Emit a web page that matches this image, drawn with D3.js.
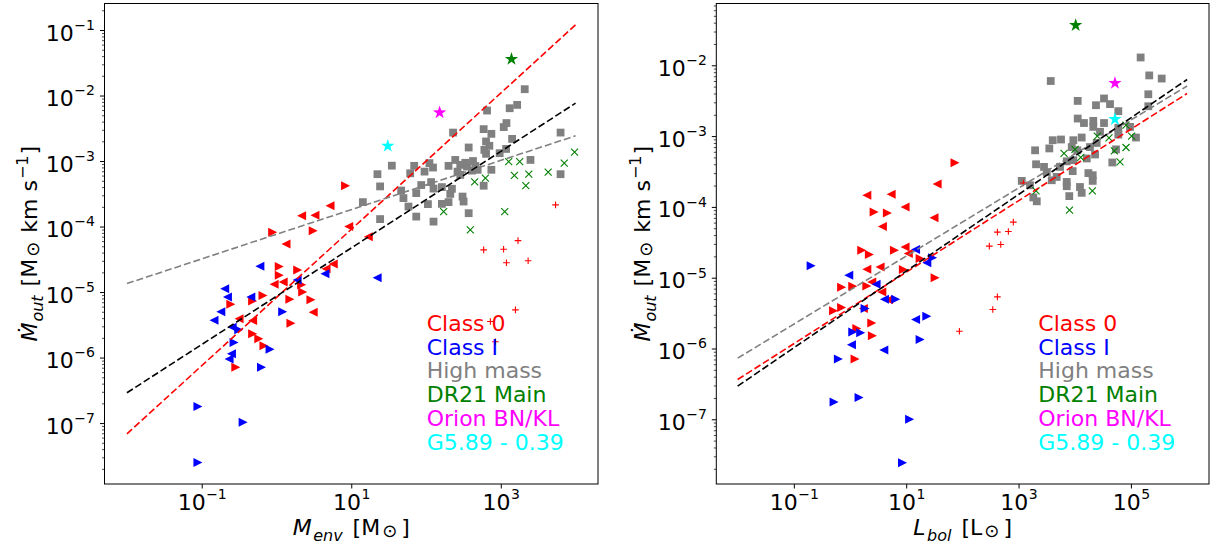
<!DOCTYPE html>
<html><head><meta charset="utf-8">
<script src="https://cdn.jsdelivr.net/npm/d3@7"></script>
<style>
body{margin:0;background:#fff}
svg{display:block}
text{font-family:"DejaVu Sans",sans-serif;white-space:pre}
</style>
</head><body>
<svg id="c" width="1215" height="551"></svg>
<script>
// ---------------- DATA ----------------
// Left panel: M_env vs Mdot_out
const envClass0Menv = [8.4,5.2,2.17,3.27,0.89,3.1,1.34,9.25,16.9,1.09,1.92,5.75,1.09,1.23,0.93,2.17,2.24,0.66,1.51,2.89,0.48,0.245,3.1,0.48,0.316,1.56,0.48,0.58,0.68,0.286,4.6];
const envClass0Mdot = [4.18e-4,2.07e-4,1.46e-4,1.49e-4,8.2e-5,8.6e-5,5.4e-5,1.0e-4,7.0e-5,2.45e-5,2.18e-5,2.67e-5,1.81e-5,1.43e-5,1.32e-5,1.29e-5,1.0e-5,8.85e-6,7.8e-6,7.6e-6,7.3e-6,6.5e-6,4.9e-6,3.67e-6,3.9e-6,3.35e-6,2.3e-6,1.93e-6,1.52e-6,7.1e-7,2.26e-5];
const envClass0Dir  = ['r','l','l','l','r','r','l','l','l','r','r','l','r','l','l','r','r','r','r','r','r','r','l','l','l','r','r','r','r','r','l'];

const envClassIMenv = [0.6,1.89,4.45,22.2,0.203,0.221,0.454,0.18,1.21,0.146,0.255,0.313,0.271,0.82,0.25,0.232,0.63,0.089,0.089,0.358];
const envClassIMdot = [2.48e-5,1.53e-5,1.9e-5,1.65e-5,1.12e-5,8.4e-6,8.4e-6,5.0e-6,5.0e-6,3.7e-6,2.9e-6,2.65e-6,1.7e-6,1.34e-6,1.14e-6,9.5e-7,7.1e-7,1.79e-7,2.5e-8,1.03e-7];
const envClassIDir  = ['l','l','l','l','l','l','l','l','r','l','l','r','r','r','l','l','r','r','r','r'];

const envHighMenv = [2090,1655,1315,655,1190,1095,590,748,230,1417,6300,635,703,372,603,1178,635,966,2495,246,425,200,287,353,264,412,490,748,6300,34.9,69.5,111,124,95.5,22.4,61.4,287,590,24.3,86.3,117,126,163,222,46.5,74,49.9,211,308,318,200,163,106,14.3,58.2,372,74,24.3,126,335,457];
const envHighMdot = [0.0125,7.2e-3,6.4e-3,5.9e-3,3.8e-3,3.3e-3,3.07e-3,2.6e-3,2.72e-3,2.18e-3,2.72e-3,1.99e-3,1.71e-3,1.61e-3,1.48e-3,1.53e-3,1.29e-3,1.32e-3,1.04e-3,1.04e-3,1.0e-3,8.45e-4,8.75e-4,8.24e-4,6.9e-4,7.15e-4,7.35e-4,7.35e-4,6.3e-4,8.5e-4,8.45e-4,9.3e-4,7.96e-4,6.9e-4,6.3e-4,6.5e-4,6.15e-4,4.2e-4,4.1e-4,4.3e-4,4.77e-4,3.8e-4,4.0e-4,3.77e-4,3.55e-4,3.24e-4,2.72e-4,3.15e-4,2.87e-4,2.41e-4,2.36e-4,2.22e-4,2.2e-4,2.36e-4,2.02e-4,1.6e-4,1.42e-4,1.3e-4,1.19e-4,9.4e-4,8.4e-4];

const envDR21Menv = [1276,1790,9700,7060,4300,2370,1520,2160,447,622,172,1128,391];
const envDR21Mdot = [9.8e-4,9.8e-4,1.37e-3,9.3e-4,6.8e-4,6.3e-4,6.05e-4,4.2e-4,4.8e-4,5.5e-4,1.69e-4,1.69e-4,8.9e-5];

const envPlusMenv = [5400,1700,590,1090,1190,2320,1570,726,847];
const envPlusMdot = [2.14e-4,6.1e-5,4.4e-5,4.5e-5,2.8e-5,3.0e-5,5.35e-6,3.55e-6,1.74e-6];

// Right panel: L_bol vs Mdot_out
const lbolClass0L    = [1.99,5.4,35.5,2.69,4.63,9.55,3.77,31.3,1.62,2.21,6.17,9.55,10.9,1.99,3.43,8.9,17.7,32.7,0.71,1.12,1.99,2.44,3.68,0.51,0.71,1.73,4.82,1.32,2.44,2.5,1.23,74];
const lbolClass0Mdot = [1.46e-4,1.51e-4,2.1e-4,8.5e-5,8.2e-5,1.0e-4,5.3e-5,7.0e-5,2.45e-5,2.13e-5,2.45e-5,2.72e-5,2.2e-5,1.32e-5,1.42e-5,1.31e-5,1.87e-5,1.0e-5,7.3e-6,7.6e-6,7.66e-6,8.7e-6,6.3e-6,3.4e-6,3.8e-6,3.67e-6,4.9e-6,1.91e-6,2.3e-6,1.51e-6,7.1e-7,4.2e-4];
const lbolClass0Dir  = ['l','l','l','r','r','l','l','l','r','r','r','l','l','l','l','r','r','r','r','r','r','l','l','r','r','l','l','r','r','r','r','r'];

const lbolClassIL    = [0.203,0.95,14.7,23.3,29.5,2.91,4.1,6.5,1.86,14.7,23.3,1.12,1.55,1.06,17.7,4.0,0.62,0.52,1.45,11.5,8.6];
const lbolClassIMdot = [1.47e-5,1.08e-5,2.5e-5,1.63e-5,1.91e-5,8.1e-6,4.97e-6,4.97e-6,3.67e-6,2.57e-6,2.86e-6,1.71e-6,1.67e-6,1.13e-6,1.34e-6,9.5e-7,7.1e-7,1.76e-7,2.03e-7,1.0e-7,2.44e-8];
const lbolClassIDir  = ['r','l','l','l','r','l','l','r','r','l','r','r','r','l','r','l','r','r','r','r','r'];

const lbolHighL    = [149000,212000,353000,3740,204000,11300,33200,23900,42500,204000,59700,11300,14600,21400,21400,33200,59700,96400,123000,59700,28200,4060,5700,9440,13300,3530,1970,24600,54300,16400,23000,46700,7200,2050,2840,3180,5470,9200,4780,3900,7200,17500,20900,20900,1140,1600,7200,12400,13300,8000,1830,2110,8850,11100,18700,9440];
const lbolHighMdot = [0.0129,7.2e-3,6.5e-3,6.0e-3,3.9e-3,3.14e-3,3.4e-3,2.73e-3,2.83e-3,2.64e-3,2.25e-3,1.77e-3,1.53e-3,1.64e-3,1.35e-3,1.53e-3,1.31e-3,1.35e-3,9.55e-4,1.05e-3,1.15e-3,8.75e-4,8.95e-4,8.75e-4,9.55e-4,6.7e-4,6.3e-4,8.0e-4,6.5e-4,4.83e-4,5.5e-4,4.24e-4,4.4e-4,4.0e-4,3.67e-4,3.1e-4,3.67e-4,3.2e-4,2.65e-4,2.38e-4,2.25e-4,3.0e-4,2.8e-4,2.33e-4,2.33e-4,2.02e-4,1.96e-4,1.91e-4,1.58e-4,1.42e-4,1.36e-4,1.2e-4,7.0e-4,6.3e-4,7.0e-4,4.57e-4];

const lbolDR21L    = [81800,103000,25200,40700,81800,50700,64000,10100,6450,12800,2050,20600,8070];
const lbolDR21Mdot = [1.43e-3,1.0e-3,1.0e-3,9.45e-4,6.9e-4,6.2e-4,4.33e-4,6.5e-4,5.7e-4,5.0e-4,1.68e-4,1.68e-4,9.0e-5];

const lbolPlusL    = [1220,807,420,659,302,482,420,348,88.5];
const lbolPlusMdot = [2.18e-4,6.1e-5,4.4e-5,4.5e-5,2.79e-5,2.94e-5,5.36e-6,3.56e-6,1.75e-6];

// Single sources (stars): DR21 Main, Orion BN/KL, G5.89-0.39
const starColors   = ['#008000','#ff00ff','#00ffff'];
const starMenv     = [1390,152,30.8];
const starMdotEnv  = [0.036,5.5e-3,1.7e-3];
const starLbol     = [10400,52000,52000];
const starMdotLbol = [0.0368,5.6e-3,1.73e-3];

// Power-law fits (end points)
const fitMenv       = [0.01,1e4];
const fitEnvClass0  = [6.84e-8,0.12];
const fitEnvHigh    = [1.35e-5,2.43e-3];
const fitEnvAll     = [2.9e-7,7.65e-3];
const fitLbol       = [0.01,1e6];
const fitLbolClass0 = [3.65e-7,4.0e-3];
const fitLbolHigh   = [7.3e-7,5.1e-3];
const fitLbolAll    = [2.94e-7,6.3e-3];

// Legend and ticks
const legendLabels = ['Class 0','Class I','High mass','DR21 Main','Orion BN/KL','G5.89 - 0.39'];
const legendColors = ['#ff0000','#0000ff','#808080','#008000','#ff00ff','#00ffff'];
const envXTickExp  = [-1,1,3];
const envYTickExp  = [-7,-6,-5,-4,-3,-2,-1];
const lbolXTickExp = [-1,1,3,5];
const lbolYTickExp = [-7,-6,-5,-4,-3,-2];

// ---------------- DRAWING ----------------
const svg = d3.select('#c');
const FS = 22, SFS = 16, TSF = 14, ODOT = 18;

function rich(sel, segs){
  let prev = 0;
  segs.forEach(s=>{
    const up = s.up||0;
    const ts = sel.append('tspan').text(s.t).attr('font-size', s.fs||FS).attr('dy', prev-up);
    if (s.it) ts.attr('font-style','italic');
    if (s.dx) ts.attr('dx', s.dx);
    prev = up;
  });
}
function starPath(R,r){
  let p='';
  for(let i=0;i<10;i++){
    const a=-Math.PI/2+i*Math.PI/5, rad=i%2?r:R;
    p+=(i?'L':'M')+(rad*Math.cos(a)).toFixed(2)+','+(rad*Math.sin(a)).toFixed(2);
  }
  return p+'Z';
}
const TRI = 4.5;
const triR = `M${TRI},0L${-TRI},${-TRI}L${-TRI},${TRI}Z`;
const triL = `M${-TRI},0L${TRI},${-TRI}L${TRI},${TRI}Z`;
const SQ = 3.9;
const sqPath = `M${-SQ},${-SQ}H${SQ}V${SQ}H${-SQ}Z`;
const XS = 3.5, PS = 3.3;
const xPath = `M${-XS},${-XS}L${XS},${XS}M${-XS},${XS}L${XS},${-XS}`;
const pPath = `M${-PS},0H${PS}M0,${-PS}V${PS}`;
const stPath = starPath(7,2.7);

function panel(c){
  const g = svg.append('g');
  const x = d3.scaleLog().domain(c.xd).range([c.l,c.r]);
  const y = d3.scaleLog().domain(c.yd).range([c.b,c.t]);
  const tr = d=>`translate(${x(d[0])},${y(d[1])})`;
  const pts = g.append('g');

  pts.selectAll('.hm').data(d3.zip(c.high[0],c.high[1])).join('path')
    .attr('d',sqPath).attr('transform',tr).attr('fill','#808080');
  pts.selectAll('.dr').data(d3.zip(c.dr21[0],c.dr21[1])).join('path')
    .attr('d',xPath).attr('transform',tr).attr('fill','none').attr('stroke','#008000').attr('stroke-width',1.1);
  pts.selectAll('.pl').data(d3.zip(c.plus[0],c.plus[1])).join('path')
    .attr('d',pPath).attr('transform',tr).attr('fill','none').attr('stroke','#ff0000').attr('stroke-width',1.1);
  pts.selectAll('.c0').data(d3.zip(c.c0[0],c.c0[1],c.c0[2])).join('path')
    .attr('d',d=>d[2]==='r'?triR:triL).attr('transform',tr).attr('fill','#ff0000');
  pts.selectAll('.c1').data(d3.zip(c.c1[0],c.c1[1],c.c1[2])).join('path')
    .attr('d',d=>d[2]==='r'?triR:triL).attr('transform',tr).attr('fill','#0000ff');
  pts.selectAll('.st').data(d3.zip(c.star[0],c.star[1],starColors)).join('path')
    .attr('d',stPath).attr('transform',tr).attr('fill',d=>d[2]);

  const line = d3.line().x(d=>x(d[0])).y(d=>y(d[1]));
  [[c.fits[1],'#ff0000'],[c.fits[2],'#808080'],[c.fits[3],'#000000']].forEach(([f,col])=>{
    g.append('path').attr('d',line(d3.zip(c.fits[0],f))).attr('fill','none')
      .attr('stroke',col).attr('stroke-width',1.6).attr('stroke-dasharray','7,3');
  });

  // axes
  const xMaj = c.xexp.map(e=>Math.pow(10,e));
  const yMaj = c.yexp.map(e=>Math.pow(10,e));
  const yMin = y.ticks().filter(v=>Math.abs(Math.log10(v)-Math.round(Math.log10(v)))>1e-6);
  const ax = g.append('g').attr('transform',`translate(0,${c.b})`)
    .call(d3.axisBottom(x).tickValues(xMaj).tickSize(4.5).tickSizeOuter(0).tickFormat(''));
  const ay = g.append('g').attr('transform',`translate(${c.l},0)`)
    .call(d3.axisLeft(y).tickValues(yMaj).tickSize(4.5).tickSizeOuter(0).tickFormat(''));
  const aym = g.append('g').attr('transform',`translate(${c.l},0)`)
    .call(d3.axisLeft(y).tickValues(yMin).tickSize(2.5).tickSizeOuter(0).tickFormat(''));
  [ax,ay,aym].forEach(a=>{a.select('.domain').remove(); a.selectAll('line').attr('stroke','#000').attr('stroke-width',1);});
  aym.selectAll('line').attr('stroke-width',0.7);

  ax.selectAll('.tick').each(function(d){
    const e = Math.round(Math.log10(d));
    const t = d3.select(this).append('text').attr('x',0).attr('y',26).attr('text-anchor','middle').attr('fill','#000').attr('font-size',FS);
    rich(t,[{t:'10'},{t:(e<0?'\u2212':'')+Math.abs(e),fs:TSF,up:10.7,dx:0.5}]);
  });
  ay.selectAll('.tick').each(function(d){
    const e = Math.round(Math.log10(d));
    const t = d3.select(this).append('text').attr('x',-9.5).attr('y',10).attr('text-anchor','end').attr('fill','#000').attr('font-size',FS);
    rich(t,[{t:'10'},{t:(e<0?'\u2212':'')+Math.abs(e),fs:TSF,up:10.7,dx:0.5}]);
  });

  g.append('rect').attr('x',c.l).attr('y',c.t).attr('width',c.r-c.l).attr('height',c.b-c.t)
    .attr('fill','none').attr('stroke','#000').attr('stroke-width',1);

  // axis labels
  const xl = g.append('text').attr('x',(c.l+c.r)/2).attr('y',535).attr('text-anchor','middle').attr('font-size',FS);
  rich(xl,c.xlab);
  const yl = g.append('text').attr('transform',`translate(${c.ylx},${(c.t+c.b)/2}) rotate(-90)`).attr('text-anchor','middle').attr('font-size',FS);
  rich(yl,[{t:'\u1E40',it:1},{t:'out',fs:SFS,it:1,up:-6,dx:1},{t:' [M',dx:2},{t:'\u2299',fs:ODOT,up:-2,dx:2},{t:' km s',dx:2},{t:'\u22121',fs:SFS,up:9,dx:1},{t:']',dx:1}]);

  // legend
  g.selectAll('.lg').data(legendLabels).join('text')
    .attr('x',c.lx).attr('y',(d,i)=>331+i*23.7).attr('font-size',FS)
    .attr('fill',(d,i)=>legendColors[i]).text(d=>d);
}

panel({
  l:104.5,r:598,t:3.5,b:484,
  xd:[Math.pow(10,-2.3),Math.pow(10,4.3)], yd:[Math.pow(10,-7.93),Math.pow(10,-0.595)],
  high:[envHighMenv,envHighMdot], dr21:[envDR21Menv,envDR21Mdot], plus:[envPlusMenv,envPlusMdot],
  c0:[envClass0Menv,envClass0Mdot,envClass0Dir], c1:[envClassIMenv,envClassIMdot,envClassIDir],
  star:[starMenv,starMdotEnv],
  fits:[fitMenv,fitEnvClass0,fitEnvHigh,fitEnvAll],
  xexp:envXTickExp, yexp:envYTickExp,
  xlab:[{t:'M',it:1},{t:'env',fs:SFS,it:1,up:-6,dx:1.5},{t:' [M',dx:3},{t:'\u2299',fs:ODOT,up:-2,dx:2},{t:']',dx:4}],
  ylx:36.5, lx:426.7
});
panel({
  l:716.3,r:1209,t:3.5,b:484,
  xd:[Math.pow(10,-2.38),Math.pow(10,6.39)], yd:[Math.pow(10,-7.914),Math.pow(10,-1.127)],
  high:[lbolHighL,lbolHighMdot], dr21:[lbolDR21L,lbolDR21Mdot], plus:[lbolPlusL,lbolPlusMdot],
  c0:[lbolClass0L,lbolClass0Mdot,lbolClass0Dir], c1:[lbolClassIL,lbolClassIMdot,lbolClassIDir],
  star:[starLbol,starMdotLbol],
  fits:[fitLbol,fitLbolClass0,fitLbolHigh,fitLbolAll],
  xexp:lbolXTickExp, yexp:lbolYTickExp,
  xlab:[{t:'L',it:1},{t:'bol',fs:SFS,it:1,up:-6,dx:1.5},{t:' [L',dx:3},{t:'\u2299',fs:ODOT,up:-2,dx:2},{t:']',dx:4}],
  ylx:650, lx:1038.3
});
</script>
</body></html>
